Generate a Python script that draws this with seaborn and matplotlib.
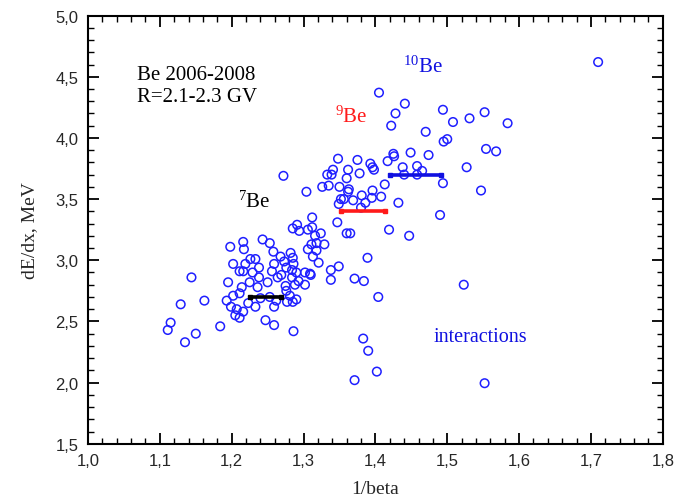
import matplotlib
matplotlib.use("Agg")
import matplotlib.pyplot as plt
import seaborn as sns
import pandas as pd
from matplotlib.ticker import MultipleLocator, FuncFormatter

# ---- data ----
inv_beta = [
    1.710, 1.405, 1.441, 1.428, 1.422, 1.494, 1.508, 1.531, 1.552, 1.584,
    1.470, 1.495, 1.500, 1.554, 1.568, 1.449, 1.474, 1.425, 1.426, 1.417,
    1.438, 1.458, 1.465, 1.440, 1.458, 1.527, 1.494, 1.547, 1.490, 1.432,
    1.419, 1.447, 1.413, 1.408, 1.523, 1.552, 1.348, 1.375, 1.341, 1.362,
    1.333, 1.339, 1.378, 1.393, 1.396, 1.398, 1.360, 1.326, 1.335, 1.350,
    1.363, 1.362, 1.396, 1.381, 1.352, 1.356, 1.369, 1.386, 1.395, 1.349,
    1.380, 1.304, 1.272, 1.347, 1.360, 1.365, 1.389, 1.349, 1.338, 1.338,
    1.371, 1.384, 1.404, 1.383, 1.390, 1.402, 1.371, 1.312, 1.285, 1.291,
    1.294, 1.306, 1.312, 1.324, 1.316, 1.318, 1.329, 1.311, 1.306, 1.318,
    1.313, 1.321, 1.302, 1.309, 1.310, 1.302, 1.282, 1.268, 1.285, 1.273,
    1.286, 1.276, 1.284, 1.290, 1.269, 1.284, 1.293, 1.288, 1.275, 1.276,
    1.281, 1.290, 1.285, 1.277, 1.286, 1.243, 1.253, 1.258, 1.259, 1.256,
    1.264, 1.250, 1.238, 1.233, 1.226, 1.229, 1.238, 1.236, 1.225, 1.253,
    1.262, 1.259, 1.233, 1.247, 1.259, 1.240, 1.216, 1.217, 1.198, 1.202,
    1.219, 1.211, 1.216, 1.195, 1.214, 1.211, 1.202, 1.193, 1.199, 1.207,
    1.216, 1.205, 1.211, 1.223, 1.184, 1.144, 1.162, 1.129, 1.115, 1.111,
    1.150, 1.135,
]
dedx = [
    4.62, 4.37, 4.28, 4.20, 4.10, 4.23, 4.13, 4.16, 4.21, 4.12,
    4.05, 3.97, 3.99, 3.91, 3.89, 3.88, 3.86, 3.87, 3.85, 3.81,
    3.76, 3.77, 3.73, 3.70, 3.70, 3.76, 3.63, 3.57, 3.37, 3.47,
    3.25, 3.20, 3.62, 3.52, 2.80, 1.995, 3.83, 3.82, 3.74, 3.74,
    3.70, 3.70, 3.71, 3.79, 3.76, 3.74, 3.67, 3.60, 3.61, 3.60,
    3.58, 3.56, 3.57, 3.53, 3.50, 3.50, 3.49, 3.47, 3.51, 3.46,
    3.43, 3.56, 3.69, 3.31, 3.22, 3.22, 3.02, 2.95, 2.92, 2.84,
    2.85, 2.83, 2.70, 2.36, 2.26, 2.09, 2.02, 3.35, 3.26, 3.29,
    3.24, 3.25, 3.27, 3.22, 3.20, 3.14, 3.13, 3.13, 3.09, 3.08,
    3.03, 2.98, 2.90, 2.89, 2.88, 2.80, 3.06, 3.03, 3.02, 2.99,
    2.97, 2.94, 2.92, 2.90, 2.88, 2.86, 2.83, 2.80, 2.79, 2.75,
    2.71, 2.68, 2.66, 2.66, 2.42, 3.17, 3.14, 3.07, 2.97, 2.91,
    2.86, 2.82, 2.94, 3.01, 3.01, 2.90, 2.86, 2.78, 2.82, 2.70,
    2.67, 2.62, 2.62, 2.51, 2.47, 2.69, 3.15, 3.09, 3.11, 2.97,
    2.97, 2.91, 2.91, 2.82, 2.78, 2.73, 2.71, 2.67, 2.62, 2.60,
    2.58, 2.55, 2.53, 2.65, 2.46, 2.86, 2.67, 2.64, 2.49, 2.43,
    2.40, 2.33,
]

# isotope mean segments
be7_x = [1.225, 1.268]
be7_y = [2.70, 2.70]
be9_x = [1.352, 1.414]
be9_y = [3.40, 3.40]
be10_x = [1.420, 1.492]
be10_y = [3.70, 3.70]

title_lines = ["Be 2006-2008", "R=2.1-2.3 GV"]
x_label = "1/beta"
y_label = "dE/dx, MeV"

# ---- plotting ----
sns.set_theme(style="white")
plt.rcParams["font.family"] = ["Liberation Sans", "DejaVu Sans"]
plt.rcParams["mathtext.fontset"] = "custom"
plt.rcParams["mathtext.rm"] = "Liberation Serif"
plt.rcParams["mathtext.it"] = "Liberation Serif:italic"

fig = plt.figure(figsize=(6.77, 5.02), dpi=100)
ax = fig.add_axes([0.130, 0.114, 0.849, 0.853])

df = pd.DataFrame({"x": inv_beta, "y": dedx})
sns.scatterplot(data=df, x="x", y="y", ax=ax, marker="o", s=38,
                facecolor="none", edgecolor="#1f1fff", linewidth=1.1,
                legend=False, zorder=3)

for xs, ys, c in [(be7_x, be7_y, "black"), (be9_x, be9_y, "#ff1a1a"),
                  (be10_x, be10_y, "#1010e0")]:
    ax.plot(xs, ys, color=c, linewidth=2.6, marker="s", markersize=3,
            solid_capstyle="butt", zorder=4)

ax.set_xlim(1.0, 1.8)
ax.set_ylim(1.5, 5.0)

ax.xaxis.set_major_locator(MultipleLocator(0.1))
ax.xaxis.set_minor_locator(MultipleLocator(0.02))
ax.yaxis.set_major_locator(MultipleLocator(0.5))
ax.yaxis.set_minor_locator(MultipleLocator(0.1))
fmt = FuncFormatter(lambda v, p: f"{v:.1f}".replace(".", ","))
ax.xaxis.set_major_formatter(fmt)
ax.yaxis.set_major_formatter(fmt)

ax.tick_params(which="both", direction="in", top=True, right=True,
               bottom=True, left=True, color="black")
ax.tick_params(which="major", length=8, width=1.3, labelsize=12, pad=7)
ax.tick_params(which="minor", length=4, width=1.0)
for s in ax.spines.values():
    s.set_color("black")
    s.set_linewidth(1.5)

ax.set_xlabel(x_label, family="Liberation Serif", fontsize=14, labelpad=8)
ax.set_ylabel(y_label, family="Liberation Serif", fontsize=14, labelpad=12)

serif = "Liberation Serif"
ax.text(1.068, 4.52, title_lines[0], family=serif, fontsize=15,
        va="center", ha="left", color="black")
ax.text(1.068, 4.335, title_lines[1], family=serif, fontsize=15,
        va="center", ha="left", color="black")
ax.text(1.438, 4.59, r"$^{10}$Be", family=serif, fontsize=15,
        va="center", ha="left", color="#1010e0")
ax.text(1.344, 4.18, r"$^{9}$Be", family=serif, fontsize=15,
        va="center", ha="left", color="#ff1a1a")
ax.text(1.209, 3.48, r"$^{7}$Be", family=serif, fontsize=15,
        va="center", ha="left", color="black")
ax.text(1.481, 2.38, "interactions", family=serif, fontsize=14.5,
        va="center", ha="left", color="#1010e0")

fig.savefig("out.png", dpi=100)
